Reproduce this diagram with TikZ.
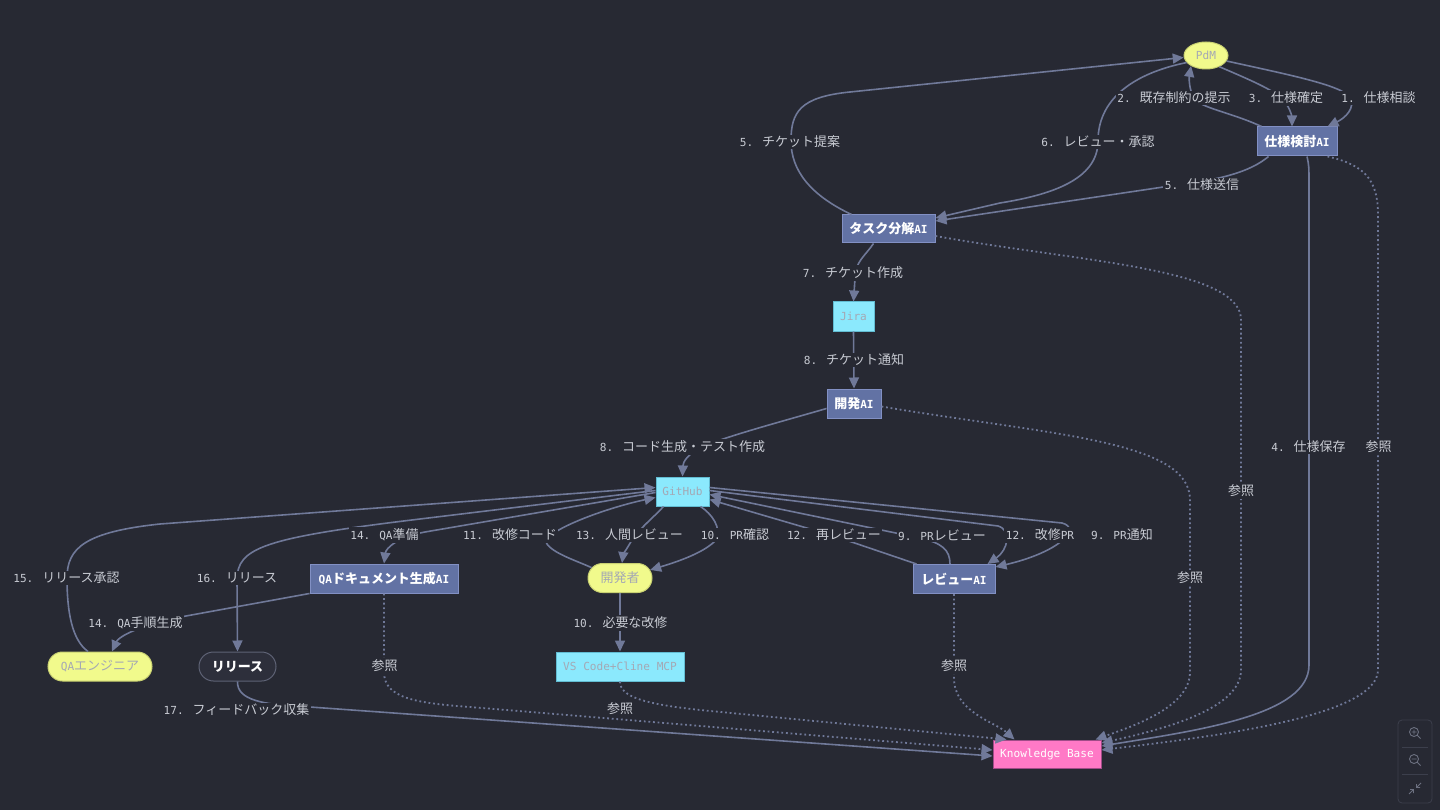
\documentclass[tikz,border=0pt]{standalone}
\usepackage{fontspec}
\usepackage{xcolor}
\usetikzlibrary{arrows.meta,shapes.geometric,shapes.misc}
\setmainfont{DejaVu Sans Mono}
\newfontfamily\latfam{DejaVu Sans Mono}
\newfontfamily\jpfam[Scale=1.17]{Noto Sans CJK JP}

% Japanese characters switch to the CJK font, Latin ones back to mono
\XeTeXinterchartokenstate=1
\chardef\JPclass=10
\newcount\jpcode
\def\setjprange#1#2{\jpcode=#1 \loop\XeTeXcharclass\jpcode=\JPclass \ifnum\jpcode<#2 \advance\jpcode by 1 \repeat}
\setjprange{"3000}{"30FF}
\setjprange{"4E00}{"9FFF}
\setjprange{"FF00}{"FFEF}
\XeTeXinterchartoks 0 \JPclass = {\jpfam}
\XeTeXinterchartoks 4095 \JPclass = {\jpfam}
\XeTeXinterchartoks \JPclass 0 = {\latfam}

\definecolor{BgDark}{HTML}{272933}
\definecolor{AiFill}{HTML}{6272A4}
\definecolor{AiBorder}{HTML}{8290C4}
\definecolor{PersonFill}{HTML}{F1FA8C}
\definecolor{PersonBorder}{HTML}{C9D172}
\definecolor{ToolFill}{HTML}{8BE9FD}
\definecolor{ToolBorder}{HTML}{62BCD2}
\definecolor{SoftText}{HTML}{A4A8B4}
\definecolor{KbFill}{HTML}{FF79C6}
\definecolor{KbBorder}{HTML}{A04C88}
\definecolor{ReleaseFill}{HTML}{2D2F3B}
\definecolor{ReleaseBorder}{HTML}{5E6275}
\definecolor{LineColor}{HTML}{707999}
\definecolor{LabelText}{HTML}{C8CBD3}
\definecolor{CtrlColor}{HTML}{3C3F4C}
\definecolor{CtrlIcon}{HTML}{6C7080}

\begin{document}
\begin{tikzpicture}[
	x=1pt, y=-1pt, % one unit = one pixel of the layout, y downwards
	font=\fontsize{11.1pt}{13pt}\selectfont,
	% Style for the AI agent boxes
	ai node/.style={
		rectangle,
		draw=AiBorder,        % Node border color
		fill=AiFill,          % Node background color
		text=white,
		line width=1pt,
		inner sep=0pt,
		minimum height=29pt,
		font=\fontsize{11.1pt}{13pt}\selectfont\bfseries
	},
	% Style for the people (rounded yellow nodes)
	person node/.style={
		rounded rectangle,
		draw=PersonBorder,
		fill=PersonFill,
		text=SoftText,
		line width=1pt,
		inner sep=0pt,
		minimum height=29pt
	},
	% Style for the tools (cyan boxes)
	tool node/.style={
		rectangle,
		draw=ToolBorder,
		fill=ToolFill,
		text=SoftText,
		line width=1pt,
		inner sep=0pt,
		minimum height=29pt
	},
	% Style for the knowledge base
	kb node/.style={
		rectangle,
		draw=KbBorder,
		fill=KbFill,
		text=white,
		line width=1pt,
		inner sep=0pt,
		minimum height=28pt
	},
	% Style for the release node
	release node/.style={
		rounded rectangle,
		draw=ReleaseBorder,
		fill=ReleaseFill,
		text=white,
		line width=1pt,
		inner sep=0pt,
		minimum height=29pt,
		font=\fontsize{11.1pt}{13pt}\selectfont\bfseries
	},
	% Style for the flow arrows
	edge/.style={
		draw=LineColor,
		line width=1.6pt,
		-{Triangle[length=11pt,width=10pt]}
	},
	% Style for the dotted reference arrows
	ref edge/.style={
		edge,
		line width=1.8pt,
		dash pattern=on 1.8pt off 2.8pt
	},
	% Style for the texts on the arrows
	flow label/.style={
		fill=BgDark,          % hides the line under the text
		text=LabelText,
		inner sep=1.5pt
	},
	% Style for the viewer buttons
	ctrl frame/.style={draw=CtrlColor, line width=0.8pt},
	ctrl icon/.style={draw=CtrlIcon, line width=0.9pt}
	]
	
	\useasboundingbox (0,0) rectangle (1440,810);
	\fill[BgDark] (0,0) rectangle (1440,810);
	
	% 1. Nodes
	\node[person node, ellipse, minimum width=44pt, minimum height=27pt] (pdm) at (1206,55.5) {PdM};
	\node[ai node, minimum width=80pt] (spec) at (1297,141.5) {仕様検討AI};
	\node[ai node, minimum width=93pt, minimum height=28pt] (task) at (888.5,229) {タスク分解AI};
	\node[tool node, minimum width=41pt] (jira) at (853.5,316.5) {Jira};
	\node[ai node, minimum width=54pt] (devai) at (854,403.5) {開発AI};
	\node[tool node, minimum width=53pt] (github) at (682.5,491.5) {GitHub};
	\node[person node, minimum width=64pt] (dev) at (620,578) {開発者};
	\node[ai node, minimum width=82pt] (review) at (954,579) {レビューAI};
	\node[ai node, minimum width=148pt] (qadoc) at (384,578.5) {QAドキュメント生成AI};
	\node[person node, minimum width=104pt] (qaeng) at (100,666.5) {QAエンジニア};
	\node[release node, minimum width=77pt] (release) at (237.5,666.5) {リリース};
	\node[tool node, minimum width=128pt] (vscode) at (620,666.5) {VS Code+Cline MCP};
	\node[kb node, minimum width=108pt] (kb) at (1047,754) {Knowledge Base};
	
	% 2. Edges around PdM and the spec AI
	\draw[edge] (pdm.345) .. controls (1290,75) and (1340,85) .. (1350,97) .. controls (1356,108) and (1345,118) .. ([xshift=-10pt]spec.north east);
	\draw[edge] ([xshift=5pt]spec.north west) .. controls (1230,112) and (1200,108) .. (1194,98) .. controls (1189,90) and (1189,78) .. (pdm.215);
	\draw[edge] (pdm.320) .. controls (1255,82) and (1278,92) .. (1285,102) .. controls (1291,110) and (1292,118) .. ([xshift=-5pt]spec.north);
	\draw[edge] ([xshift=10pt]spec.south) .. controls (1309,166) .. (1309,186) -- (1309,665) .. controls (1309,715) and (1200,730) .. ([yshift=8pt]kb.east);
	\draw[ref edge] ([xshift=-10pt]spec.south east) .. controls (1365,165) and (1378,180) .. (1378,215) -- (1378,670) .. controls (1378,718) and (1200,738) .. ([yshift=4pt]kb.east);
	\draw[edge] ([xshift=12pt]spec.south west) .. controls (1250,172) and (1220,180) .. (1170,186) -- ([yshift=8pt]task.east);
	
	% 3. Edges around the task AI
	\draw[edge] ([xshift=10pt]task.north west) .. controls (810,195) and (791,170) .. (791,141) .. controls (791,112) and (800,97) .. (850,92) -- (pdm.185);
	\draw[edge] (pdm.200) .. controls (1140,72) and (1098,95) .. (1098,141) .. controls (1098,180) and (1050,195) .. (1000,203) -- ([yshift=11pt]task.east);
	\draw[ref edge] ([yshift=-7pt]task.east) .. controls (1080,262) and (1241,268) .. (1241,320) -- (1241,670) .. controls (1241,712) and (1150,732) .. ([yshift=11pt]kb.east);
	\draw[edge] ([xshift=-15pt]task.south) .. controls (865,256) and (855,262) .. (855,278) -- (jira.north);
	\draw[edge] (jira.south) -- (devai.north);
	
	% 4. Edges around the dev AI and GitHub
	\draw[ref edge] ([yshift=-3pt]devai.east) .. controls (1050,435) and (1190,440) .. (1190,500) -- (1190,672) .. controls (1190,708) and (1130,727) .. ([xshift=-6pt]kb.north east);
	\draw[edge] ([yshift=-5pt]devai.west) .. controls (780,422) and (720,438) .. (700,448) .. controls (688,454) and (683,462) .. (github.north);
	\draw[edge] ([xshift=-4pt]review.north) .. controls (950,550) and (942,543) .. (920,538) -- ([yshift=-3pt]github.east);
	\draw[edge] ([xshift=4pt]review.north west) -- (834,536) -- ([yshift=-8pt]github.east);
	\draw[edge] ([yshift=1pt]github.east) -- (998,526) .. controls (1012,530) and (1008,550) .. ([xshift=-8pt]review.north east);
	\draw[edge] ([yshift=4pt]github.east) -- (1062,523) .. controls (1082,528) and (1060,552) .. ([yshift=-3pt]review.north east);
	\draw[edge] ([xshift=-9pt]github.south east) .. controls (712,514) and (722,528) .. (716,540) .. controls (705,552) and (680,561) .. (dev.15);
	\draw[edge] ([xshift=8pt]github.south west) .. controls (655,516) and (640,528) .. (632,540) .. controls (626,550) and (623,555) .. ([xshift=2pt]dev.north);
	\draw[edge] (dev.160) .. controls (575,560) and (548,552) .. (545,540) .. controls (560,524) and (615,506) .. ([yshift=-6pt]github.west);
	\draw[edge] ([yshift=-1pt]github.west) -- (425,532) .. controls (398,537) and (386,548) .. (qadoc.north);
	\draw[edge] ([xshift=-12pt]qaeng.north) .. controls (72,640) and (67,612) .. (67,578) .. controls (67,548) and (85,532) .. (160,524) -- ([yshift=4pt]github.west);
	\draw[edge] ([yshift=1pt]github.west) -- (420,519) .. controls (262,538) and (237,548) .. (237,580) -- (release.north);
	\draw[edge] (qadoc.south west) -- (175,618) .. controls (132,628) and (118,638) .. ([xshift=12pt]qaeng.north);
	\draw[edge] (dev.south) -- (vscode.north);
	
	% 5. Edges into the knowledge base
	\draw[ref edge] (qadoc.south) -- (384,672) .. controls (384,698) and (415,703) .. (470,707) -- ([yshift=4pt]kb.west);
	\draw[ref edge] (vscode.south) .. controls (620,697) and (645,704) .. (700,710) -- ([xshift=14pt]kb.north west);
	\draw[ref edge] (review.south) -- (954,678) .. controls (954,712) and (995,722) .. ([xshift=22pt]kb.north west);
	\draw[edge] (release.south) .. controls (237,700) and (262,705) .. (310,707) -- ([yshift=-2pt]kb.west);
	
	% 6. Labels on the edges
	\node[flow label] (lbl1) at (1378.5,98) {1. 仕様相談};
	\node[flow label] (lbl3) at (1286,98) {3. 仕様確定};
	\node[flow label] (lbl2) at (1174,98) {2. 既存制約の提示};
	\node[flow label] (lbl5a) at (790,142) {5. チケット提案};
	\node[flow label] (lbl6) at (1098,142) {6. レビュー・承認};
	\node[flow label] (lbl5b) at (1202,185) {5. 仕様送信};
	\node[flow label] (lbl7) at (853,273) {7. チケット作成};
	\node[flow label] (lbl8a) at (854,360) {8. チケット通知};
	\node[flow label] (lbl8b) at (682.5,447) {8. コード生成・テスト作成};
	\node[flow label] (lbl14a) at (384.5,535) {14. QA準備};
	\node[flow label] (lbl11) at (510,535) {11. 改修コード};
	\node[flow label] (lbl13) at (629.5,535) {13. 人間レビュー};
	\node[flow label] (lbl10a) at (735,535) {10. PR確認};
	\node[flow label] (lbl12a) at (834,535) {12. 再レビュー};
	\node[flow label] (lbl9a) at (942,535) {9. PRレビュー};
	\node[flow label] (lbl12b) at (1040,535) {12. 改修PR};
	\node[flow label] (lbl9b) at (1122,535) {9. PR通知};
	\node[flow label] (lbl15) at (66.5,578) {15. リリース承認};
	\node[flow label] (lbl16) at (237,578) {16. リリース};
	\node[flow label] (lbl14b) at (135.5,623) {14. QA手順生成};
	\node[flow label] (lbl10b) at (620.5,623) {10. 必要な改修};
	\node[flow label] (lbl4) at (1308.5,447) {4. 仕様保存};
	\node[flow label] (lbl17) at (236.5,710) {17. フィードバック収集};
	\node[flow label] (ref1) at (1378.5,447) {参照};
	\node[flow label] (ref2) at (1241,491) {参照};
	\node[flow label] (ref3) at (1190,578) {参照};
	\node[flow label] (ref4) at (384.5,666) {参照};
	\node[flow label] (ref5) at (954,666) {参照};
	\node[flow label] (ref6) at (620,709) {参照};
	
	% 7. Zoom buttons of the viewer
	\draw[ctrl frame, rounded corners=4pt] (1398,720) rectangle (1432,803);
	\draw[ctrl frame] (1402,747.5) -- (1428,747.5);
	\draw[ctrl frame] (1402,774) -- (1428,774);
	\draw[ctrl icon] (1414,732) circle (4.5pt) (1417.5,735.5) -- (1420.5,738.5)
		(1411.5,732) -- (1416.5,732) (1414,729.5) -- (1414,734.5);
	\draw[ctrl icon] (1414,759) circle (4.5pt) (1417.5,762.5) -- (1420.5,765.5)
		(1411.5,759) -- (1416.5,759);
	\draw[ctrl icon] (1421,783) -- (1416.5,787.5) (1416.5,784) -- (1416.5,787.5) -- (1420,787.5)
		(1409,794) -- (1413.5,789.5) (1410,789.5) -- (1413.5,789.5) -- (1413.5,793);
	
\end{tikzpicture}
\end{document}
